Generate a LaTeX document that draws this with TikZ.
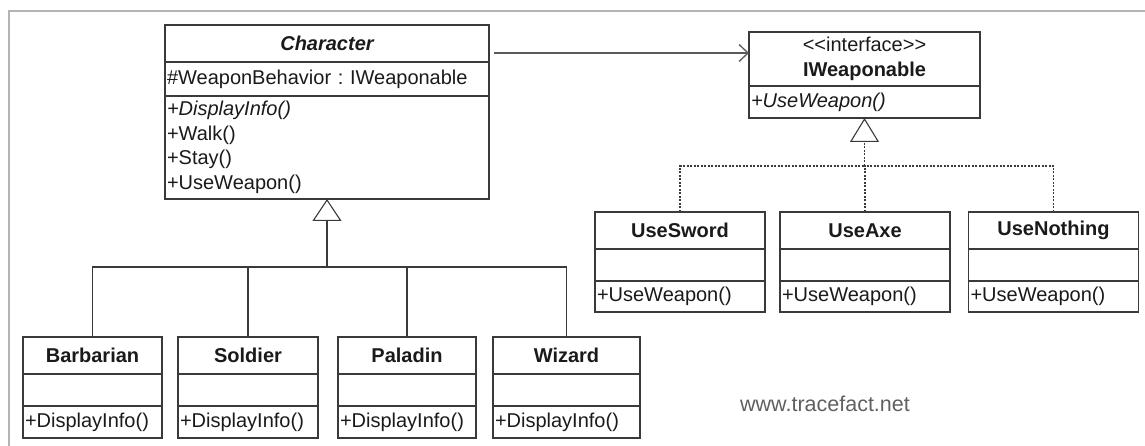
\documentclass[tikz,border=0pt]{standalone}
\usepackage{fontspec}
\setmainfont{Liberation Sans}
\usetikzlibrary{positioning, arrows.meta}
\definecolor{umlline}{HTML}{3A3A3A}
\definecolor{umltext}{HTML}{1A1A1A}
\definecolor{assocgray}{HTML}{5A5A5A}
\definecolor{framegray}{HTML}{B4B4B4}
\definecolor{markgray}{HTML}{606060}
\newcommand{\umlfont}{\fontsize{20}{24.5}\selectfont\frenchspacing}
\tikzset{
	part/.style={draw=umlline, line width=1.1pt, outer sep=0pt, inner xsep=2pt, inner ysep=0pt, text=umltext, font=\umlfont},
	title/.style={part, font=\umlfont\bfseries, align=center, anchor=north},
	members/.style={part, align=left},
	link/.style={draw=umlline, line width=1.1pt},
	inherit/.style={link, -{Triangle[open, fill=white, length=22pt, width=29pt]}},
	dotlink/.style={link, dash pattern=on 2pt off 1.5pt},
	realize/.style={dotlink, -{Triangle[open, fill=white, length=24pt, width=29pt]}},
	assoc/.style={draw=assocgray, line width=1.3pt, -{Straight Barb[length=9pt, width=17pt]}},
}

\begin{document}
\begin{tikzpicture}[x=1pt, y=-1pt]
	\useasboundingbox (0, 0) rectangle (1145, 446);
	\draw[framegray, line width=2.5pt] (9, 446) -- (9, 11) -- (1145, 11);

	% Character and its subclasses:
	\node[title, text width=320pt, minimum height=37pt, font=\umlfont\bfseries\itshape] (chr) at (327, 25) {Character};
	\node[members, text width=320pt, minimum height=34pt, below=0pt of chr] (chr-attr) {\#WeaponBehavior : IWeaponable};
	\node[members, text width=320pt, minimum height=103pt, below=0pt of chr-attr] (chr-ops) {\textit{+DisplayInfo()}\\+Walk()\\+Stay()\\+UseWeapon()};

	\node[title, text width=135pt, minimum height=37pt] (barb) at (92.5, 337) {Barbarian};
	\node[members, text width=135pt, minimum height=32pt, below=0pt of barb] (barb-attr) {};
	\node[members, text width=135pt, minimum height=32pt, below=0pt of barb-attr] (barb-ops) {+DisplayInfo()};

	\node[title, text width=136pt, minimum height=37pt] (sold) at (248, 337) {Soldier};
	\node[members, text width=136pt, minimum height=32pt, below=0pt of sold] (sold-attr) {};
	\node[members, text width=136pt, minimum height=32pt, below=0pt of sold-attr] (sold-ops) {+DisplayInfo()};

	\node[title, text width=134pt, minimum height=37pt] (pal) at (407, 337) {Paladin};
	\node[members, text width=134pt, minimum height=32pt, below=0pt of pal] (pal-attr) {};
	\node[members, text width=134pt, minimum height=32pt, below=0pt of pal-attr] (pal-ops) {+DisplayInfo()};

	\node[title, text width=143pt, minimum height=37pt] (wiz) at (566.5, 337) {Wizard};
	\node[members, text width=143pt, minimum height=32pt, below=0pt of wiz] (wiz-attr) {};
	\node[members, text width=143pt, minimum height=32pt, below=0pt of wiz-attr] (wiz-ops) {+DisplayInfo()};

	\coordinate (hub) at (327, 267);
	\draw[inherit] (hub) -- (chr-ops.south);
	\draw[link] (barb.north) |- (hub);
	\draw[link] (sold.north) |- (hub);
	\draw[link] (pal.north) |- (hub);
	\draw[link] (wiz.north) |- (hub);

	% The weapon interface and what implements it:
	\node[title, text width=227pt, minimum height=54pt, font=\umlfont] (ifc) at (864.5, 32) {<\kern0pt<interface>\kern0pt>\\\textbf{IWeaponable}};
	\node[members, text width=227pt, minimum height=32pt, below=0pt of ifc] (ifc-ops) {\textit{+UseWeapon()}};

	\node[title, text width=166pt, minimum height=37pt] (sword) at (680, 212) {UseSword};
	\node[members, text width=166pt, minimum height=32pt, below=0pt of sword] (sword-attr) {};
	\node[members, text width=166pt, minimum height=31pt, below=0pt of sword-attr] (sword-ops) {+UseWeapon()};

	\node[title, text width=166pt, minimum height=37pt] (axe) at (865, 212) {UseAxe};
	\node[members, text width=166pt, minimum height=32pt, below=0pt of axe] (axe-attr) {};
	\node[members, text width=166pt, minimum height=31pt, below=0pt of axe-attr] (axe-ops) {+UseWeapon()};

	\node[title, text width=166pt, minimum height=37pt] (nothing) at (1053.5, 212) {UseNothing};
	\node[members, text width=166pt, minimum height=32pt, below=0pt of nothing] (nothing-attr) {};
	\node[members, text width=166pt, minimum height=31pt, below=0pt of nothing-attr] (nothing-ops) {+UseWeapon()};

	\coordinate (ihub) at (864.5, 166);
	\draw[realize] (ihub) -- (ifc-ops.south);
	\draw[dotlink] (sword.north) |- (ihub);
	\draw[dotlink] (axe.north) |- (ihub);
	\draw[dotlink] (nothing.north) |- (ihub);

	\draw[assoc, shorten <=5pt] ([yshift=-9.5pt]chr.east) coordinate (use) -- (use -| ifc.west);

	\node[font=\fontsize{21.5}{24}\selectfont, text=markgray] (site) at (825, 404) {www.tracefact.net};
\end{tikzpicture}
\end{document}
